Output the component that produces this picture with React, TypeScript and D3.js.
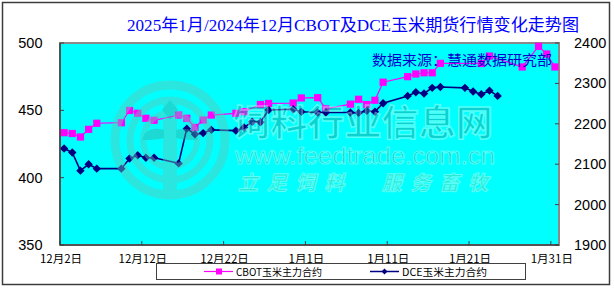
import React from "react";
import * as d3 from "d3";

// ---- data ----
const cbotDates = [
  "2024-12-02","2024-12-03","2024-12-04","2024-12-05","2024-12-06",
  "2024-12-09","2024-12-10","2024-12-11","2024-12-12","2024-12-13",
  "2024-12-16","2024-12-17","2024-12-18","2024-12-19","2024-12-20",
  "2024-12-23","2024-12-24","2024-12-26","2024-12-27","2024-12-30","2024-12-31",
  "2025-01-02","2025-01-03","2025-01-06","2025-01-07","2025-01-08","2025-01-09","2025-01-10",
  "2025-01-13","2025-01-14","2025-01-15","2025-01-16","2025-01-17",
  "2025-01-22","2025-01-23","2025-01-27","2025-01-29","2025-01-30","2025-01-31",
];
const cbotValues = [
  433.4, 432.8, 430.2, 435.9, 440.4,
  440.8, 449.9, 447.8, 444.1, 442.6,
  446.5, 444.1, 437.3, 442.8, 446.5,
  447.8, 449.0, 454.3, 455.1, 455.4, 459.2,
  459.4, 451.1, 454.6, 458.2, 454.3, 457.5, 470.9,
  475.0, 477.0, 477.9, 477.9, 484.9,
  484.8, 490.3, 482.2, 497.5, 491.8, 482.2,
];
const dceDates = [
  "2024-12-02","2024-12-03","2024-12-04","2024-12-05","2024-12-06",
  "2024-12-09","2024-12-10","2024-12-11","2024-12-12","2024-12-13",
  "2024-12-16","2024-12-17","2024-12-18","2024-12-19","2024-12-20",
  "2024-12-23","2024-12-24","2024-12-25","2024-12-26","2024-12-27","2024-12-30","2024-12-31",
  "2025-01-02","2025-01-03","2025-01-06","2025-01-07","2025-01-08","2025-01-09","2025-01-10",
  "2025-01-13","2025-01-14","2025-01-15","2025-01-16","2025-01-17",
  "2025-01-20","2025-01-21","2025-01-22","2025-01-23","2025-01-24",
];
const dceValues = [
  2139, 2129, 2084, 2100, 2089,
  2089, 2114, 2122, 2116, 2116,
  2102, 2188, 2174, 2177, 2185,
  2183, 2191, 2205, 2204, 2234, 2236, 2230,
  2228, 2228, 2228, 2227, 2232, 2230, 2251,
  2269, 2278, 2275, 2289, 2291,
  2289, 2280, 2273, 2282, 2269,
];
const leftTicks = [350, 400, 450, 500];
const rightTicks = [1900, 2000, 2100, 2200, 2300, 2400];
const titleText = "2025年1月/2024年12月CBOT及DCE玉米期货行情变化走势图";
const sourceText = "数据来源：慧通数据研究部";
const seriesNames = ["CBOT玉米主力合约", "DCE玉米主力合约"];
const axisStart = "2024-12-02";
const axisEnd = "2025-02-01";

const parse = d3.timeParse("%Y-%m-%d");
const fmt = d3.timeFormat("%-m月%-d日");

export default function App() {
  const W = 614, H = 288;
  const L = 60, R = 559, T = 43, B = 245;
  const x = d3.scaleTime().domain([parse(axisStart)!, parse(axisEnd)!]).range([L, R]);
  const yL = d3.scaleLinear().domain([350, 500]).range([B, T]);
  const yR = d3.scaleLinear().domain([1900, 2400]).range([B, T]);
  const mid = (s: string) => d3.timeHour.offset(parse(s)!, 12);

  const cbot = cbotDates.map((d, i) => ({ x: x(mid(d)), y: yL(cbotValues[i]) }));
  const dce = dceDates.map((d, i) => ({ x: x(mid(d)), y: yR(dceValues[i]) }));
  const line = d3.line<{ x: number; y: number }>().x((p) => p.x).y((p) => p.y);

  const xTicks = d3.range(0, 7).map((i) => d3.timeDay.offset(parse(axisStart)!, i * 10));

  const sans = "'Liberation Sans', Arial, 'Noto Sans CJK SC', sans-serif";
  const cjk = "'Noto Sans CJK SC', 'Liberation Sans', sans-serif";
  const serif = "'Liberation Serif', 'Noto Sans CJK SC', serif";

  const cbotColor = "#ff00ff";
  const dceColor = "#000080";

  const diamond = (cx: number, cy: number, r: number) =>
    `M${cx},${cy - r}L${cx + r},${cy}L${cx},${cy + r}L${cx - r},${cy}Z`;

  // watermark geometry
  const wcx = 170, wcy = 140;

  return (
    <div style={{ position: "absolute", left: 0, top: 0 }}>
      <svg width={W} height={H} style={{ display: "block" }}>
        <rect x={0} y={0} width={W} height={H} fill="#ffffff" />
        <rect x={2.5} y={2.5} width={607} height={282} fill="#ffffff" stroke="#3c3c3c" strokeWidth={1.5} />
        {/* plot */}
        <rect x={L} y={T} width={R - L} height={B - T} fill="#00ffff" stroke="#8a8a8a" strokeWidth={2} />

        {/* title */}
        <text x={127} y={30.5} fill="#0000ff" fontFamily={serif} fontSize={16.5}
          textLength={452} lengthAdjust="spacingAndGlyphs">{titleText}</text>

        {/* series */}
        <path d={line(cbot)!} fill="none" stroke={cbotColor} strokeWidth={1.2} />
        {cbot.map((p, i) => (
          <rect key={"c" + i} x={p.x - 3.6} y={p.y - 3.6} width={7.2} height={7.2} fill={cbotColor} />
        ))}
        <path d={line(dce)!} fill="none" stroke={dceColor} strokeWidth={1.6} />
        {dce.map((p, i) => (
          <path key={"d" + i} d={diamond(p.x, p.y, 4.2)} fill={dceColor} />
        ))}

        {/* watermark */}
        <g opacity={0.45} pointerEvents="none">
          <circle cx={wcx} cy={wcy} r={55} fill="none" stroke="#5fc9b8" strokeWidth={9} />
          <circle cx={wcx} cy={wcy} r={40} fill="none" stroke="#5fc9b8" strokeWidth={7} />
          <circle cx={wcx} cy={wcy} r={27} fill="none" stroke="#5fc9b8" strokeWidth={6} />
          <rect x={wcx - 7} y={wcy - 40} width={14} height={95} fill="#5fc9b8" />
          <path d={`M${wcx},${wcy - 40} l8,10 l-8,10 l-8,-10Z`} fill="#3fae9e" />
          <path d={`M${wcx - 6},${wcy - 10} q-18,-5 -22,10 q14,0 22,-2Z M${wcx + 6},${wcy - 10} q18,-5 22,10 q-14,0 -22,-2Z`} fill="#3fae9e" />
          <text x={363} y={136} textAnchor="middle" fontFamily={cjk} fontWeight={700} fontSize={36}
            fill="#1a9c98" stroke="#b8fff0" strokeWidth={1.5} textLength={260} lengthAdjust="spacingAndGlyphs">饲料行业信息网</text>
          <text x={365} y={164} textAnchor="middle" fontFamily={sans} fontSize={24}
            fill="#1a9c98" stroke="#b8fff0" strokeWidth={1} textLength={260} lengthAdjust="spacingAndGlyphs">www.feedtrade.com.cn</text>
          <text x={363} y={190} textAnchor="middle" fontFamily={cjk} fontWeight={700} fontStyle="italic" fontSize={20}
            fill="#58d0a8" stroke="#c8fff0" strokeWidth={1} textLength={250} lengthAdjust="spacing">立足饲料　服务畜牧</text>
        </g>

        {/* source note */}
        <text x={372} y={65} fill="#0000cc" fontFamily={cjk} fontSize={14}
          textLength={180} lengthAdjust="spacingAndGlyphs">{sourceText}</text>

        {/* axes lines */}
        <line x1={L} y1={T} x2={L} y2={B} stroke="#404040" strokeWidth={1.5} />
        <line x1={L} y1={B} x2={R} y2={B} stroke="#404040" strokeWidth={1.5} />

        {/* left axis */}
        {leftTicks.map((v) => (
          <g key={"l" + v}>
            <line x1={L} x2={L + 4} y1={yL(v)} y2={yL(v)} stroke="#404040" />
            <text x={42.5} y={yL(v) + 5} textAnchor="end" fontFamily={sans} fontSize={14.5} fill="#000">{v}</text>
          </g>
        ))}
        {/* right axis */}
        {rightTicks.map((v) => (
          <g key={"r" + v}>
            <line x1={R - 4} x2={R} y1={yR(v)} y2={yR(v)} stroke="#404040" />
            <text x={574} y={yR(v) + 5} textAnchor="start" fontFamily={sans} fontSize={14.5} fill="#000">{v}</text>
          </g>
        ))}
        {/* x axis */}
        {xTicks.map((t, i) => (
          <g key={"x" + i}>
            <line x1={x(t)} x2={x(t)} y1={B} y2={B - 4} stroke="#404040" />
            <text x={x(t) + 1} y={263} textAnchor="middle" fontFamily={cjk} fontSize={11.5} fill="#000">{fmt(t)}</text>
          </g>
        ))}

        {/* legend */}
        <rect x={156.5} y={263.5} width={369} height={16} fill="#ffffff" stroke="#404040" strokeWidth={1} />
        <line x1={204} x2={233} y1={271.5} y2={271.5} stroke={cbotColor} strokeWidth={1.2} />
        <rect x={216} y={268.5} width={6} height={6} fill={cbotColor} />
        <text x={236} y={275.5} fontFamily={cjk} fontSize={10.5} fill="#000" textLength={86} lengthAdjust="spacingAndGlyphs">{seriesNames[0]}</text>
        <line x1={370} x2={399} y1={271.5} y2={271.5} stroke={dceColor} strokeWidth={1.5} />
        <path d={diamond(384.5, 271.5, 3)} fill={dceColor} />
        <text x={402} y={275.5} fontFamily={cjk} fontSize={10.5} fill="#000" textLength={85} lengthAdjust="spacingAndGlyphs">{seriesNames[1]}</text>
      </svg>
    </div>
  );
}
